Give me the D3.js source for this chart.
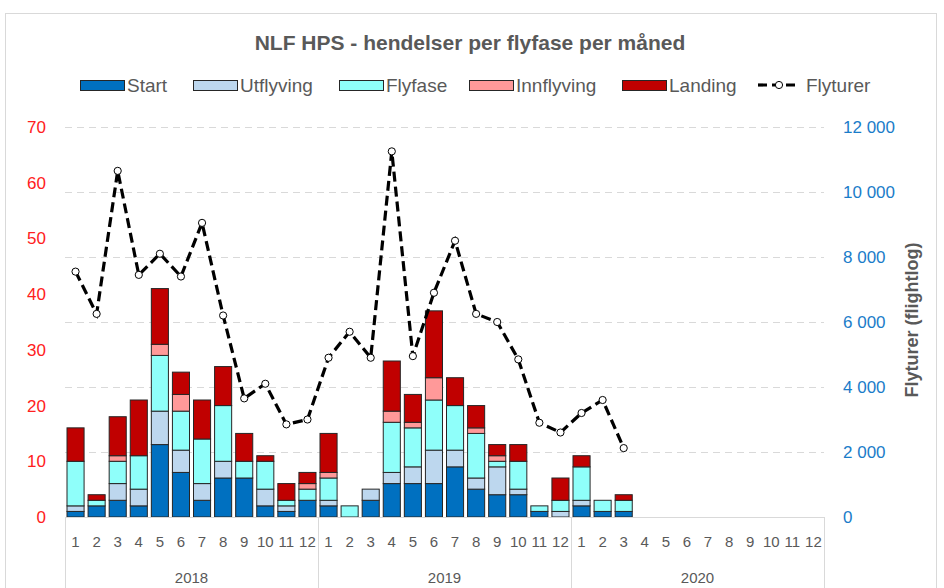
<!DOCTYPE html>
<html>
<head>
<meta charset="utf-8">
<script src="https://cdn.jsdelivr.net/npm/d3@7"></script>
<style>
  body { margin: 0; background: #fff; }
  svg text { font-family: "Liberation Sans", Arial, sans-serif; }
</style>
</head>
<body>
<div id="chart"></div>
<script>
// --- Data ---
const years = ["2018", "2019", "2020"];
const monthLabels = ["1","2","3","4","5","6","7","8","9","10","11","12"];
const seriesNames = ["Start", "Utflyving", "Flyfase", "Innflyving", "Landing"];
const start      = [1,2,3,2,13,8,3,7,7,2,1,3, 2,0,3,6,6,6,9,5,4,4,1,0, 2,1,1];
const utflyving  = [1,0,3,3,6,4,3,3,0,3,1,0, 1,0,2,2,3,6,3,2,5,1,0,1, 1,0,0];
const flyfase    = [8,1,4,6,10,7,8,10,3,5,1,2, 4,2,0,9,7,9,8,8,1,5,1,2, 6,2,2];
const innflyving = [0,0,1,0,2,3,0,0,0,0,0,1, 1,0,0,2,1,4,0,1,1,0,0,0, 0,0,0];
const landing    = [6,1,7,10,10,4,7,7,5,1,3,2, 7,0,0,9,5,12,5,4,2,3,0,4, 2,0,1];
const flyturer   = [7550,6250,10650,7450,8100,7400,9050,6200,3650,4100,2850,3000,
                    4900,5700,4900,11250,4950,6900,8500,6250,6000,4850,2900,2600,
                    3200,3600,2120];
const leftTicks = [0,10,20,30,40,50,60,70];
const rightTicks = [0,2000,4000,6000,8000,10000,12000];

const colors = ["#0070c0", "#bdd7ee", "#8ffffa", "#ff9999", "#c00000"];
const series = [start, utflyving, flyfase, innflyving, landing];

// categories: every month of the three years
const cats = [];
years.forEach(y => monthLabels.forEach(m => cats.push(y + "-" + m)));

const rows = start.map((_, i) => {
    const r = { key: cats[i] };
    seriesNames.forEach((s, k) => r[s] = series[k][i]);
    return r;
});

// --- Layout ---
const W = 944, H = 588;
const plot = { left: 65, right: 824, top: 127, bottom: 517 };
const grey = "#595959";

const svg = d3.select("#chart").append("svg").attr("width", W).attr("height", H);

// chart border
svg.append("rect").attr("x", 5.5).attr("y", 13.5).attr("width", 931).attr("height", 600)
    .attr("fill", "#fff").attr("stroke", "#d9d9d9");

const x = d3.scaleBand().domain(cats).range([plot.left, plot.right]).paddingInner(0.19).paddingOuter(0.095);
const yL = d3.scaleLinear().domain([0, 70]).range([plot.bottom, plot.top]);
const yR = d3.scaleLinear().domain([0, 12000]).range([plot.bottom, plot.top]);

// gridlines (secondary axis)
svg.append("g").selectAll("line").data(rightTicks.slice(1)).join("line")
    .attr("x1", plot.left).attr("x2", plot.right)
    .attr("y1", d => Math.round(yR(d)) + 0.5).attr("y2", d => Math.round(yR(d)) + 0.5)
    .attr("stroke", "#d9d9d9").attr("stroke-width", 1.2).attr("stroke-dasharray", "7,5");

// left axis labels
svg.append("g").selectAll("text").data(leftTicks).join("text")
    .attr("x", 46).attr("y", d => yL(d)).attr("dy", "0.35em")
    .attr("text-anchor", "end").attr("fill", "#ff2020").style("font-size", "17px")
    .text(d => d);

// right axis labels
const fmt = d => d3.format(",")(d).replace(/,/g, "\u00a0");
svg.append("g").selectAll("text").data(rightTicks).join("text")
    .attr("x", 843).attr("y", d => yR(d)).attr("dy", "0.35em")
    .attr("fill", "#1a7cc9").style("font-size", "17px")
    .text(fmt);

// right axis title
svg.append("text").attr("transform", "translate(918,320) rotate(-90)")
    .attr("text-anchor", "middle").attr("fill", grey)
    .style("font-size", "18px").style("font-weight", "bold")
    .text("Flyturer (flightlog)");

// stacked bars
const stacked = d3.stack().keys(seriesNames)(rows);
svg.append("g").selectAll("g").data(stacked).join("g")
    .attr("fill", (d, i) => colors[i])
    .selectAll("rect").data(d => d.filter(p => p[1] - p[0] > 0)).join("rect")
    .attr("x", d => x(d.data.key))
    .attr("width", x.bandwidth())
    .attr("y", d => yL(d[1]))
    .attr("height", d => yL(d[0]) - yL(d[1]))
    .attr("stroke", "#262626").attr("stroke-width", 1);

// category axis
const axisG = svg.append("g");
axisG.append("line").attr("x1", plot.left).attr("x2", plot.right)
    .attr("y1", plot.bottom + 0.5).attr("y2", plot.bottom + 0.5).attr("stroke", "#d9d9d9");
const yearStep = (plot.right - plot.left) / years.length;
axisG.selectAll(".sep").data(d3.range(years.length + 1)).join("line")
    .attr("x1", i => plot.left + i * yearStep + 0.5).attr("x2", i => plot.left + i * yearStep + 0.5)
    .attr("y1", plot.bottom).attr("y2", H).attr("stroke", "#d9d9d9");
axisG.selectAll(".m").data(cats).join("text")
    .attr("x", d => x(d) + x.bandwidth() / 2).attr("y", 547)
    .attr("text-anchor", "middle").attr("fill", grey).style("font-size", "15px")
    .text(d => d.split("-")[1]);
axisG.selectAll(".yr").data(years).join("text")
    .attr("x", (d, i) => plot.left + (i + 0.5) * yearStep).attr("y", 583)
    .attr("text-anchor", "middle").attr("fill", grey).style("font-size", "15px")
    .text(d => d);

// Flyturer line
const lineData = flyturer.map((v, i) => ({ key: cats[i], v }));
const line = d3.line().x(d => x(d.key) + x.bandwidth() / 2).y(d => yR(d.v));
svg.append("path").datum(lineData).attr("d", line)
    .attr("fill", "none").attr("stroke", "#000").attr("stroke-width", 3.2)
    .attr("stroke-dasharray", "10,5");
svg.append("g").selectAll("circle").data(lineData).join("circle")
    .attr("cx", d => x(d.key) + x.bandwidth() / 2).attr("cy", d => yR(d.v)).attr("r", 3.6)
    .attr("fill", "#fff").attr("stroke", "#000").attr("stroke-width", 1);

// title
svg.append("text").attr("x", 470).attr("y", 50).attr("text-anchor", "middle")
    .attr("fill", grey).style("font-size", "21px").style("font-weight", "bold")
    .text("NLF HPS - hendelser per flyfase per måned");

// legend
const legendX = [80, 193, 339, 469, 622];
const leg = svg.append("g");
seriesNames.forEach((s, i) => {
    leg.append("rect").attr("x", legendX[i] + 0.5).attr("y", 80.5).attr("width", 44).attr("height", 10)
        .attr("fill", colors[i]).attr("stroke", "#262626");
    leg.append("text").attr("x", legendX[i] + 47).attr("y", 85).attr("dy", "0.35em")
        .attr("fill", grey).style("font-size", "19px").text(s);
});
leg.append("line").attr("x1", 758).attr("x2", 800).attr("y1", 85).attr("y2", 85)
    .attr("stroke", "#000").attr("stroke-width", 3.2).attr("stroke-dasharray", "9,5");
leg.append("circle").attr("cx", 779).attr("cy", 85).attr("r", 3.6)
    .attr("fill", "#fff").attr("stroke", "#000");
leg.append("text").attr("x", 806).attr("y", 85).attr("dy", "0.35em")
    .attr("fill", grey).style("font-size", "19px").text("Flyturer");
</script>
</body>
</html>
